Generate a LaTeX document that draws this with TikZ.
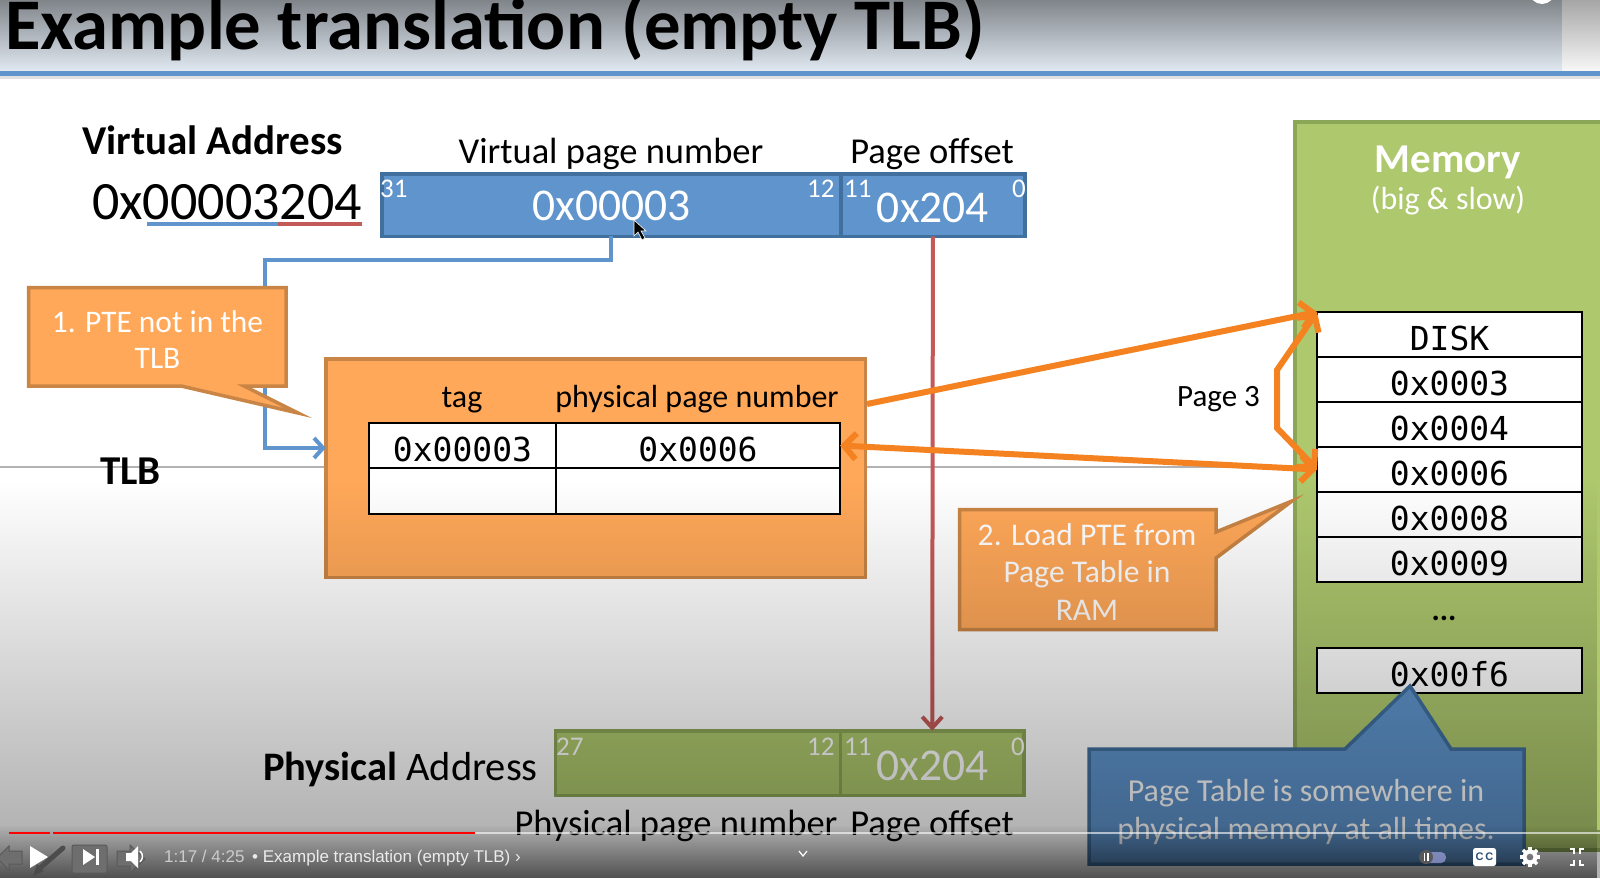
\documentclass[tikz,border=0pt]{standalone}
\usepackage{fontspec}
\usepackage{xcolor}
\usepackage{tikz}
\usetikzlibrary{arrows.meta,positioning,fadings}
\setmainfont{Carlito}
\newfontfamily\monofont{DejaVu Sans Mono}
\newfontfamily\uifont{Liberation Sans}
\newcommand{\px}[2]{\fontsize{#1}{#2}\selectfont}
\definecolor{barblue}{HTML}{5F94CC}
\definecolor{bardark}{HTML}{41709F}
\definecolor{memgreen}{HTML}{AEC86E}
\definecolor{memdark}{HTML}{8CA657}
\definecolor{tlborange}{HTML}{FFA859}
\definecolor{tlbdark}{HTML}{C98545}
\definecolor{linkorange}{HTML}{F58220}
\definecolor{offsetred}{HTML}{C45A58}
\definecolor{uidark}{HTML}{6E6E6E}
\definecolor{bandtop}{HTML}{80858A}
\definecolor{bandmid}{HTML}{B0B8C0}
\definecolor{bandlow}{HTML}{E0E8F1}
\tikzfading[name=fadelower,top color=transparent!100,bottom color=transparent!70]
\tikzfading[name=fadebar,top color=transparent!100,bottom color=transparent!45]
\tikzset{
  field/.style={draw,line width=3.5pt,outer sep=0pt,inner sep=0pt,minimum height=62.5pt,text=white,text depth=0pt,font=\px{45.5}{50}},
  bluefield/.style={field,draw=bardark,fill=barblue},
  greenfield/.style={field,draw=memdark,fill=memgreen,minimum height=64.5pt},
  bitlabel/.style={text=white,font=\px{27}{30},inner sep=0pt,anchor=base west},
  heading/.style={font=\px{36.5}{42},inner sep=0pt,anchor=base},
  boldhead/.style={font=\bfseries\px{41}{48},inner sep=0pt,anchor=base west},
  cell/.style={draw=black,line width=2pt,fill=white,outer sep=0pt,inner sep=0pt,text height=31pt,text depth=0pt,font=\monofont\px{33}{38}},
  memrow/.style={cell,minimum width=265pt,minimum height=45pt},
  calloutbox/.style={draw=tlbdark,line width=3.5pt,fill=tlborange,line join=miter},
  callouttext/.style={text=white,align=center,inner sep=0pt},
  linkarrow/.style={draw=linkorange,line width=6pt,{Straight Barb[length=12pt,width=26pt]}-{Straight Barb[length=12pt,width=26pt]}},
  oneway/.style={draw=linkorange,line width=6pt,-{Straight Barb[length=12pt,width=26pt]}},
  uibutton/.style={draw=black!65,fill=uidark,line width=1pt}
}
\begin{document}
\begin{tikzpicture}[x=1pt,y=-1pt]
  \path[use as bounding box,clip] (0,0) rectangle (1600,878);
  % slide background
  \fill[white] (0,0) rectangle (1600,878);
  \shade[top color=bandtop,middle color=bandmid,bottom color=bandlow] (0,0) rectangle (1562,71);
  \shade[top color=black!35,bottom color=black!3] (1562,0) rectangle (1600,71);
  \fill[white] (1542,-9) circle (13);
  \fill[black!12] (0,74) rectangle (1600,79);
  \fill[barblue] (0,71) rectangle (1600,76);
  \draw[black!30,line width=1.5pt] (0,467) -- (1600,467);
  \node[font=\bfseries\px{72.7}{80},inner sep=0pt,anchor=base west] (title) at (5,49) {Example translation (empty TLB)};
  % virtual address
  \node[boldhead] (vaddr) at (82,154) {Virtual Address};
  \node[font=\px{54}{60},inner sep=0pt,anchor=base west] (vvalue) at (92,219) {0x00003204};
  \draw[barblue,line width=4pt] (147,224) -- (278,224);
  \draw[offsetred,line width=4pt] (278,224) -- (362,224);
  \node[bluefield,minimum width=459.25pt,text height=30pt] (vpn) at (611.4,205) {0x00003};
  \node[bluefield,minimum width=183.75pt,text height=34pt,right=0pt of vpn] (voff) {0x204};
  \node[heading] (vpnhead) at (611,163) {Virtual page number};
  \node[heading] (voffhead) at (932,163) {Page offset};
  \foreach \x/\t in {380/31,807/12,844/11,1012/0}
    \node[bitlabel] (vbit\t) at (\x,197) {\t};
  % memory column
  \node[draw=memdark,line width=3.5pt,fill=memgreen,outer sep=0pt,minimum width=307pt,minimum height=728pt] (mem) at (1448.5,486) {};
  \node[font=\bfseries\px{41}{48},text=white,inner sep=0pt,anchor=base] (memhead) at (1448,172) {Memory};
  \node[font=\px{32}{38},text=white,inner sep=0pt,anchor=base] (memsub) at (1448,209) {(big \& slow)};
  \node[memrow] (m0) at (1449.5,334.5) {DISK};
  \foreach \i/\p/\t in {1/0/0x0003,2/1/0x0004,3/2/0x0006,4/3/0x0008,5/4/0x0009}
    \node[memrow,below=0pt of m\p] (m\i) {\t};
  \node[font=\bfseries\px{31}{36},inner sep=0pt,anchor=base] (mdots) at (1444,620) {...};
  \node[memrow] (mlast) at (1449.5,670.5) {0x00f6};
  % TLB
  \node[draw=tlbdark,line width=3.5pt,fill=tlborange,outer sep=0pt,minimum width=539.5pt,minimum height=218.5pt] (tlb) at (595.5,468) {};
  \node[cell,minimum width=187pt,minimum height=45pt] (ttag) at (462.5,445.5) {0x00003};
  \node[cell,minimum width=284pt,minimum height=45pt,right=0pt of ttag] (tppn) {0x0006};
  \node[cell,minimum width=187pt,minimum height=46pt,below=0pt of ttag] (ttag2) {};
  \node[cell,minimum width=284pt,minimum height=46pt,below=0pt of tppn] (tppn2) {};
  \node[font=\px{32}{36},inner sep=0pt,anchor=base] (taghead) at (462,407) {tag};
  \node[font=\px{32}{36},inner sep=0pt,anchor=base] (ppnhead) at (697,407) {physical page number};
  \node[boldhead] (tlbname) at (100,484) {TLB};
  % connectors
  \coordinate (wirebend) at (265,260);
  \coordinate (tlbin) at (tlb.west |- 0,448);
  \draw[barblue,line width=4pt,-{Straight Barb[length=9pt,width=20pt]}] (vpn.south) |- (wirebend) |- (tlbin);
  % physical address
  \node[greenfield,minimum width=284.75pt] (ppn) at (698.1,763) {};
  \node[greenfield,minimum width=183.5pt,text height=34pt,right=0pt of ppn] (poff) {0x204};
  \draw[offsetred,line width=4pt,-{Straight Barb[length=11pt,width=20pt]}] (voff.south) -- (poff.north);
  \node[font=\px{40.5}{48},inner sep=0pt,anchor=base east] (paddr) at (538,780) {\textbf{Physical} Address};
  \foreach \x/\t in {556/27,807/12,844/11,1011/0}
    \node[bitlabel] (pbit\t) at (\x,755) {\t};
  \node[heading] (ppnhead2) at (676,835) {Physical page number};
  \node[heading] (poffhead) at (932,835) {Page offset};
  % orange links
  \coordinate (tlbout) at (867,404);
  \coordinate (pageup) at (1277,370);
  \coordinate (pagedown) at (1277,428);
  \draw[oneway] (tlbout) -- (m0.north west);
  \draw[linkarrow] (tppn.east) -- (m3.west);
  \draw[linkarrow,line join=miter] (m0.north west) -- (pageup) -- (pagedown) -- (m3.west);
  \node[font=\px{31}{36},inner sep=0pt,anchor=base west] (pagelabel) at (1177,406) {Page 3};
  % callouts
  \draw[calloutbox] (28.5,287.5) -- (286,287.5) -- (286,386) -- (244,386) -- (298,413) -- (181,386) -- (28.5,386) -- cycle;
  \node[callouttext,font=\px{31.4}{36}] (noteone) at (157.5,340) {1. PTE not in the\\TLB};
  \draw[calloutbox] (959.5,509.5) -- (1216,509.5) -- (1216,532) -- (1292,501) -- (1216,558) -- (1216,629.5) -- (959.5,629.5) -- cycle;
  \node[callouttext,font=\px{31.6}{37.5}] (notetwo) at (1087,572) {2. Load PTE from\\Page Table in\\RAM};
  \draw[draw=bardark,line width=3.5pt,fill=barblue] (1089,749) -- (1345,749) -- (1410,686) -- (1451,749) -- (1524,749) -- (1524,864) -- (1089,864) -- cycle;
  \node[callouttext,font=\px{32}{38}] (notethree) at (1306,811.5) {Page Table is somewhere in\\physical memory at all times.};
  \fill[black,path fading=fadelower] (0,480) rectangle (1600,830);
  \fill[black!100,opacity=.3] (0,830) rectangle (1600,878);
  \fill[black,path fading=fadebar] (0,825) rectangle (1600,878);
  % video player
  \draw[white,fill=black,line width=.6pt] (634,220) -- (634,236) -- (638,232) -- (642,240) -- (645,238) -- (641,231) -- (646,231) -- cycle;
  \draw[white,opacity=.6,line width=2.5pt] (475,833) -- (1600,833);
  \draw[red,line width=2.5pt] (9,833) -- (50,833);
  \draw[red,line width=2.5pt] (53,833) -- (475,833);
  \draw[uibutton] (22,851) -- (9,851) -- (9,846) -- (-3,858) -- (9,870) -- (9,864) -- (22,864) -- cycle;
  \fill[white] (30,846) -- (48,857) -- (30,868) -- cycle;
  \draw[black!70,line width=5pt,line cap=round] (40,868) -- (63,848);
  \fill[black!70] (33,876) -- (37,864) -- (44,871) -- cycle;
  \draw[uibutton,rounded corners=2pt] (72,845) rectangle (107,873);
  \fill[white] (83,849) -- (95,857) -- (83,865) -- cycle;
  \fill[white] (96,849) rectangle (99,865);
  \draw[uibutton] (117,851) -- (130,851) -- (130,845) -- (145,859) -- (130,873) -- (130,866) -- (117,866) -- cycle;
  \fill[white] (126,853) -- (131,853) -- (138,846) -- (138,868) -- (131,861) -- (126,861) -- cycle;
  \draw[white,line width=1.5pt] (140,851) arc (-50:50:7);
  \node[font=\uifont\px{17}{20},text=white!80!black,inner sep=0pt,anchor=base west] (timer) at (164,862) {1:17 / 4:25};
  \node[font=\uifont\px{17}{20},text=white!92!black,inner sep=0pt,anchor=base west] (chapter) at (252,862) {• Example translation (empty TLB) ›};
  \draw[white,line width=1.2pt] (799,851) -- (803,856) -- (807,851);
  \fill[black!15!blue!30!white,opacity=.6,rounded corners=5pt] (1420,852) rectangle (1446,863);
  \fill[black!65] (1426,857) circle (7);
  \fill[white] (1423.5,853) rectangle (1425,861);
  \fill[white] (1427,853) rectangle (1428.5,861);
  \node[fill=white,rounded corners=2.5pt,minimum width=23pt,minimum height=18pt,inner sep=0pt,text=bardark!70!black,font=\uifont\bfseries\px{11}{12}] (ccbadge) at (1484.5,857) {C\,C};
  \foreach \a in {0,45,...,315}
    \draw[white,line width=3.5pt] (1530,857) ++(\a:5) -- ++(\a:5);
  \fill[white,even odd rule] (1530,857) circle (7.5) (1530,857) circle (3.5);
  \draw[white,line width=2.5pt] (1570,849) -- (1574,849) -- (1574,854) (1584,849) -- (1580,849) -- (1580,854)
    (1570,865) -- (1574,865) -- (1574,860) (1584,865) -- (1580,865) -- (1580,860);
\end{tikzpicture}
\end{document}
